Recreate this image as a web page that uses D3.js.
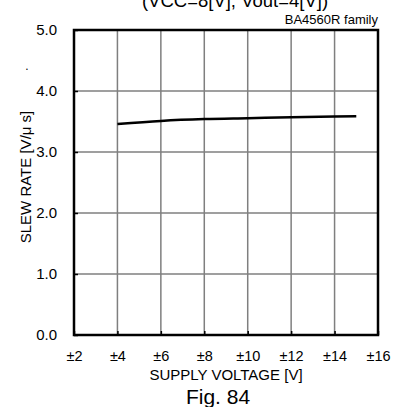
<!DOCTYPE html>
<html>
<head>
<meta charset="utf-8">
<script src="https://cdn.jsdelivr.net/npm/d3@7"></script>
<style>
  body { margin: 0; background: #fff; }
  svg text { font-family: Arial, "Liberation Sans", sans-serif; fill: #000; }
</style>
</head>
<body>
<svg width="403" height="407"></svg>
<script>
// supply voltage (±V) and slew rate (V/µs)
const supply = [4, 6, 8, 10, 12, 14, 15];
const slewRate = [3.46, 3.51, 3.54, 3.555, 3.57, 3.58, 3.585];
const xTicks = [2, 4, 6, 8, 10, 12, 14, 16];
const yTicks = [0, 1, 2, 3, 4, 5];

const svg = d3.select("svg");
const margin = {top: 30, right: 25, bottom: 72, left: 74};
const width = 403 - margin.right;
const height = 407 - margin.bottom;

const x = d3.scaleLinear().domain([2, 16]).range([margin.left, width]);
const y = d3.scaleLinear().domain([0, 5]).range([height, margin.top]);

// grid
svg.append("g")
    .selectAll("line")
    .data(xTicks.slice(1, -1))
    .enter()
    .append("line")
    .attr("x1", d => x(d)).attr("x2", d => x(d))
    .attr("y1", margin.top).attr("y2", height)
    .attr("stroke", "#7f7f7f")
    .attr("stroke-width", 1.5);

svg.append("g")
    .selectAll("line")
    .data(yTicks.slice(1, -1))
    .enter()
    .append("line")
    .attr("x1", margin.left).attr("x2", width)
    .attr("y1", d => y(d)).attr("y2", d => y(d))
    .attr("stroke", "#7f7f7f")
    .attr("stroke-width", 1.5);

// axes (ticks point inward)
svg.append("g")
    .attr("transform", `translate(0,${height})`)
    .call(d3.axisBottom(x).tickValues(xTicks).tickSize(-4).tickPadding(16)
        .tickFormat(d => "±" + d))
    .call(g => g.select(".domain").remove())
    .call(g => g.selectAll("line").attr("stroke-width", 1.5))
    .call(g => g.selectAll("text").style("font-size", "14.5px"));

svg.append("g")
    .attr("transform", `translate(${margin.left},0)`)
    .call(d3.axisLeft(y).tickValues(yTicks).tickSize(-4).tickPadding(17)
        .tickFormat(d3.format(".1f")))
    .call(g => g.select(".domain").remove())
    .call(g => g.selectAll("line").attr("stroke-width", 1.5))
    .call(g => g.selectAll("text").style("font-size", "15px"));

// frame
svg.append("rect")
    .attr("x", margin.left).attr("y", margin.top)
    .attr("width", width - margin.left).attr("height", height - margin.top)
    .attr("fill", "none")
    .attr("stroke", "#000")
    .attr("stroke-width", 2.5);

// curve
svg.append("path")
    .datum(supply.map((d, i) => [d, slewRate[i]]))
    .attr("fill", "none")
    .attr("stroke", "#000")
    .attr("stroke-width", 2.5)
    .attr("d", d3.line().x(d => x(d[0])).y(d => y(d[1])).curve(d3.curveMonotoneX));

// labels
svg.append("text")
    .attr("x", 235).attr("y", 7)
    .attr("text-anchor", "middle")
    .style("font-size", "18.5px")
    .text("(VCC=8[V], Vout=4[V])");

svg.append("text")
    .attr("x", width).attr("y", 24)
    .attr("text-anchor", "end")
    .style("font-size", "13px")
    .text("BA4560R  family");

svg.append("text")
    .attr("x", 27).attr("y", 70)
    .attr("text-anchor", "middle")
    .style("font-size", "12px")
    .text(".");

svg.append("text")
    .attr("transform", `translate(31,177) rotate(-90)`)
    .attr("text-anchor", "middle")
    .style("font-size", "15px")
    .text("SLEW RATE [V/μ s]");

svg.append("text")
    .attr("x", (margin.left + width) / 2).attr("y", 380)
    .attr("text-anchor", "middle")
    .style("font-size", "15px")
    .text("SUPPLY VOLTAGE [V]");

svg.append("text")
    .attr("x", 218).attr("y", 404)
    .attr("text-anchor", "middle")
    .style("font-size", "21px")
    .text("Fig. 84");
</script>
</body>
</html>
